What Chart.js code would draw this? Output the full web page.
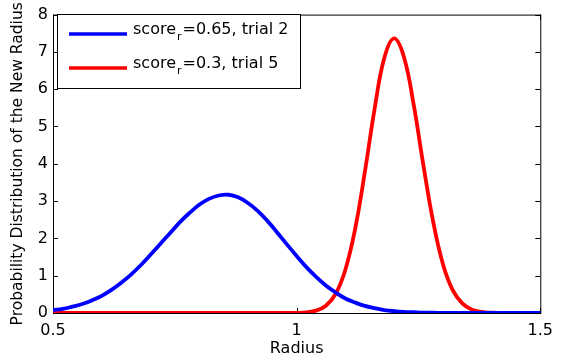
<!DOCTYPE html>
<html>
<head>
<meta charset="utf-8">
<title>Probability Distribution of the New Radius</title>
<script src="https://cdn.jsdelivr.net/npm/chart.js@4/dist/chart.umd.min.js"></script>
<style>
    html, body { margin: 0; padding: 0; background: #fff; }
    #chart { display: block; }
</style>
</head>
<body>
<canvas id="chart" width="561" height="360"></canvas>
<script>
// values (radius step 0.02)
const radius = [
    0.50, 0.52, 0.54, 0.56, 0.58, 0.60, 0.62, 0.64, 0.66, 0.68,
    0.70, 0.72, 0.74, 0.76, 0.78, 0.80, 0.82, 0.84, 0.86, 0.88,
    0.90, 0.92, 0.94, 0.96, 0.98, 1.00, 1.02, 1.04, 1.06, 1.08,
    1.10, 1.12, 1.14, 1.16, 1.18, 1.20, 1.22, 1.24, 1.26, 1.28,
    1.30, 1.32, 1.34, 1.36, 1.38, 1.40, 1.42, 1.44, 1.46, 1.48, 1.50
];
const trial2 = [
    0.08, 0.11, 0.17, 0.24, 0.34, 0.46, 0.62, 0.81, 1.03, 1.28,
    1.56, 1.85, 2.14, 2.43, 2.68, 2.90, 3.06, 3.15, 3.17, 3.10,
    2.95, 2.74, 2.47, 2.16, 1.84, 1.53, 1.23, 0.97, 0.74, 0.55,
    0.39, 0.28, 0.19, 0.13, 0.08, 0.05, 0.03, 0.02, 0.01, 0.007,
    0.004, 0.002, 0.001, 0, 0, 0, 0, 0, 0, 0, 0
];
const trial5 = [
    0, 0, 0, 0, 0, 0, 0, 0, 0, 0,
    0, 0, 0, 0, 0, 0, 0, 0, 0, 0,
    0, 0, 0, 0, 0, 0.004, 0.018, 0.064, 0.195, 0.51,
    1.16, 2.25, 3.78, 5.47, 6.84, 7.36, 6.87, 5.60, 3.97, 2.46,
    1.32, 0.62, 0.26, 0.09, 0.028, 0.008, 0.002, 0, 0, 0, 0
];
const seriesLabels = ["score_r=0.65, trial 2", "score_r=0.3, trial 5"];
const seriesColors = ["#0000ff", "#ff0000"];
const xTicks = [0.5, 1, 1.5];
const yTicks = [0, 1, 2, 3, 4, 5, 6, 7, 8];

const FONT = "'DejaVu Sans', 'Liberation Sans', sans-serif";

const toPoints = (ys) => ys.map((v, i) => ({ x: radius[i], y: v }));

// MATLAB style box with ticks pointing inwards
const boxAxes = {
    id: "boxAxes",
    beforeDatasetsDraw(chart) {
        const { ctx, chartArea: a, scales: { x, y } } = chart;
        const len = 5;
        ctx.save();
        ctx.strokeStyle = "#000";
        ctx.lineWidth = 1;
        ctx.strokeRect(a.left + 0.5, a.top + 0.5, a.right - a.left, a.bottom - a.top);
        ctx.beginPath();
        yTicks.forEach((v) => {
            const py = Math.round(y.getPixelForValue(v)) + 0.5;
            ctx.moveTo(a.left, py); ctx.lineTo(a.left + len, py);
            ctx.moveTo(a.right, py); ctx.lineTo(a.right - len, py);
        });
        xTicks.forEach((v) => {
            const px = Math.round(x.getPixelForValue(v)) + 0.5;
            ctx.moveTo(px, a.bottom); ctx.lineTo(px, a.bottom - len);
            ctx.moveTo(px, a.top); ctx.lineTo(px, a.top + len);
        });
        ctx.stroke();
        ctx.restore();
    }
};

// legend box in the upper left, labels have a subscript "r"
const subLegend = {
    id: "subLegend",
    afterDatasetsDraw(chart) {
        const { ctx } = chart;
        const box = { x: 57, y: 14, w: 243, h: 74 };
        ctx.save();
        ctx.fillStyle = "#fff";
        ctx.fillRect(box.x, box.y, box.w, box.h);
        ctx.strokeStyle = "#000";
        ctx.lineWidth = 1;
        ctx.strokeRect(box.x + 0.5, box.y + 0.5, box.w, box.h);
        chart.data.datasets.forEach((ds, i) => {
            const ly = 34 + i * 34;
            ctx.strokeStyle = ds.borderColor;
            ctx.lineWidth = 3.5;
            ctx.beginPath();
            ctx.moveTo(69, ly);
            ctx.lineTo(127, ly);
            ctx.stroke();

            const [main, rest] = ds.label.split("_");
            let tx = 133;
            ctx.fillStyle = "#000";
            ctx.textBaseline = "alphabetic";
            ctx.font = "16px " + FONT;
            ctx.fillText(main, tx, ly);
            tx += ctx.measureText(main).width + 1;
            ctx.font = "11px " + FONT;
            ctx.fillText(rest[0], tx, ly + 6);
            tx += ctx.measureText(rest[0]).width + 1;
            ctx.font = "16px " + FONT;
            ctx.fillText(rest.slice(1), tx, ly);
        });
        ctx.restore();
    }
};

new Chart(document.getElementById("chart"), {
    type: "line",
    data: {
        datasets: [
            {
                label: seriesLabels[0],
                data: toPoints(trial2),
                borderColor: seriesColors[0],
                borderWidth: 3.8,
                pointRadius: 0,
                fill: false,
                tension: 0.4,
            },
            {
                label: seriesLabels[1],
                data: toPoints(trial5),
                borderColor: seriesColors[1],
                borderWidth: 3.8,
                pointRadius: 0,
                fill: false,
                tension: 0.4,
            },
        ],
    },
    options: {
        responsive: false,
        animation: false,
        layout: { padding: { top: 11, right: 14, left: 0, bottom: 0 } },
        plugins: {
            legend: { display: false },
            tooltip: { enabled: false },
        },
        scales: {
            x: {
                type: "linear",
                min: 0.5,
                max: 1.5,
                afterFit: (s) => { s.height = 47; },
                afterBuildTicks: (s) => { s.ticks = xTicks.map((v) => ({ value: v })); },
                grid: { display: false, drawTicks: false },
                border: { display: false },
                ticks: {
                    padding: 8,
                    color: "#000",
                    font: { family: FONT, size: 16 },
                    callback: (v) => String(v),
                },
                title: {
                    display: true,
                    text: "Radius",
                    color: "#000",
                    font: { family: FONT, size: 16 },
                    padding: { bottom: 2 },
                },
            },
            y: {
                min: 0,
                max: 8,
                afterFit: (s) => { s.width = 53; },
                afterBuildTicks: (s) => { s.ticks = yTicks.map((v) => ({ value: v })); },
                grid: { display: false, drawTicks: false },
                border: { display: false },
                ticks: {
                    padding: 5,
                    color: "#000",
                    font: { family: FONT, size: 16 },
                    callback: (v) => String(v),
                },
                title: {
                    display: true,
                    text: "Probability Distribution of the New Radius",
                    color: "#000",
                    font: { family: FONT, size: 15.5 },
                    padding: { top: 9 },
                },
            },
        },
    },
    plugins: [boxAxes, subLegend],
});
</script>
</body>
</html>
